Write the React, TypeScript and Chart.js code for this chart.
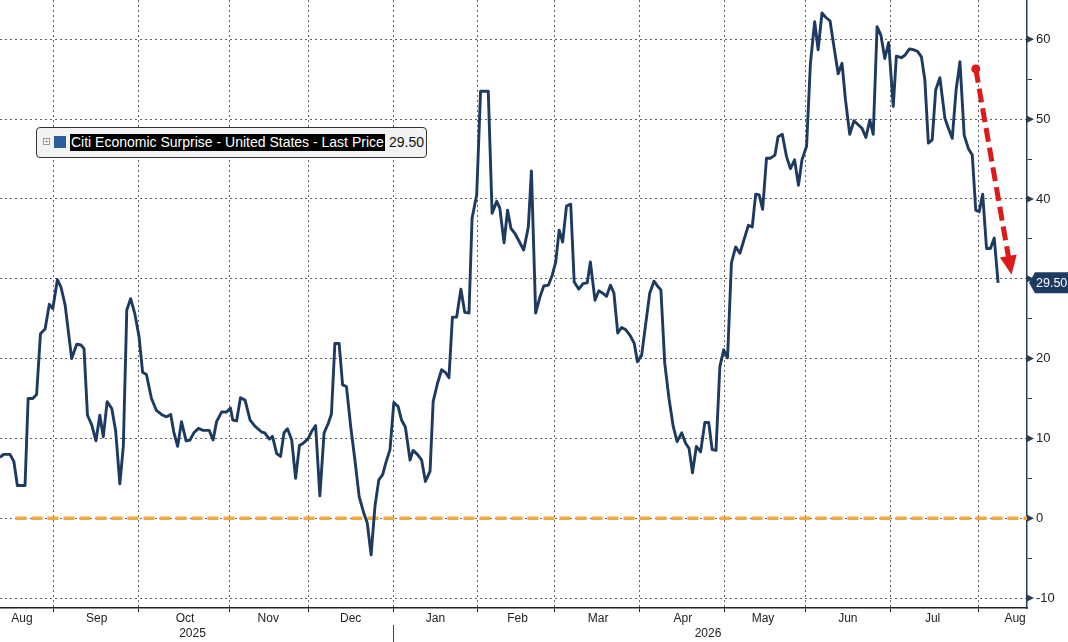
import { useEffect, useRef } from 'react';
import { Chart, registerables } from 'chart.js';

Chart.register(...registerables);

// x = business-day index, 0 = first trading day of Sep 2025
const days = [
  -14.0, -13.1, -11.4, -10.4, -9.5, -7.5, -6.7, -5.5, -4.5, -3.5, -2.3, -1.2, -0.3, 0.9, 1.8, 2.9,
  4.6, 5.9, 7.0, 7.8, 8.7, 9.8, 10.9, 11.9, 12.8, 13.8, 15.0, 16.0, 17.1, 18.0, 18.9, 19.9,
  21.0, 22.1, 23.0, 24.0, 25.3, 26.6, 27.9, 29.2, 30.3, 31.1, 32.1, 33.1, 34.3, 35.3, 36.3, 37.5,
  38.7, 40.3, 41.3, 42.2, 43.5, 44.8, 45.8, 46.4, 47.4, 48.4, 49.6, 50.9, 52.2, 53.9, 54.7, 55.9,
  56.7, 57.8, 58.8, 59.7, 60.6, 61.7, 62.7, 63.7, 64.7, 66.0, 66.9, 67.9, 69.0, 70.1, 71.2, 72.0,
  72.9, 74.0, 74.9, 75.9, 77.0, 78.1, 79.2, 80.4, 81.3, 82.3, 83.3, 84.3, 85.3, 86.1, 87.2, 88.2,
  89.3, 90.2, 91.2, 92.4, 93.2, 94.3, 95.4, 96.4, 97.6, 98.4, 99.5, 100.6, 101.7, 102.5, 103.4, 104.5,
  105.6, 106.6, 107.7, 108.5, 109.7, 110.7, 112.7, 113.7, 114.9, 115.7, 116.8, 117.7, 118.6, 119.6, 120.7, 121.9,
  123.1, 123.9, 125.0, 126.1, 127.1, 128.3, 129.3, 130.2, 131.1, 132.0, 133.0, 134.1, 135.0, 136.2, 137.3, 138.4,
  139.2, 140.4, 141.4, 142.4, 143.4, 144.4, 145.3, 146.3, 147.3, 148.4, 149.5, 150.6, 151.4, 152.5, 153.6, 154.6,
  155.7, 156.6, 157.5, 158.5, 159.6, 160.7, 161.7, 162.9, 163.9, 164.8, 165.7, 166.7, 167.8, 168.9, 169.9, 170.8,
  171.8, 172.8, 173.8, 174.8, 175.8, 176.9, 178.0, 179.0, 180.2, 181.2, 182.1, 183.0, 183.9, 184.9, 185.9, 187.1,
  187.9, 189.0, 190.1, 191.1, 192.2, 193.2, 194.1, 195.3, 196.3, 197.4, 198.3, 199.3, 200.2, 201.4, 202.4, 203.5,
  204.5, 205.4, 206.5, 207.6, 208.7, 209.7, 210.7, 211.7, 212.6, 213.6, 214.6, 215.6, 216.6, 217.8, 218.6, 219.9,
  220.8, 222.0, 223.0, 224.1, 225.1, 226.0, 226.9, 227.9, 228.8, 229.9, 231.2, 232.1, 233.1, 234.1, 235.1, 236.2,
  237.3, 238.3, 239.2, 240.1, 241.0, 242.0, 243.0, 244.0, 245.0,
];

const surprise = [
  7.6, 8.0, 8.0, 7.1, 4.1, 4.1, 15.0, 15.0, 15.5, 23.1, 23.7, 26.8, 26.25, 29.9, 29.0, 26.7,
  20.0, 21.8, 21.7, 21.25, 12.9, 11.7, 9.7, 12.9, 10.2, 14.6, 13.75, 11.0, 4.3, 9.0, 26.1, 27.5,
  25.6, 22.7, 18.3, 18.0, 15.0, 13.5, 13.0, 12.7, 13.0, 10.8, 9.0, 12.1, 9.7, 9.8, 10.7, 11.25,
  11.0, 11.0, 9.8, 12.1, 13.3, 13.3, 13.8, 12.3, 12.2, 15.1, 14.8, 12.3, 11.5, 10.8, 10.7, 9.9,
  10.25, 8.1, 7.75, 10.7, 11.2, 9.8, 5.0, 9.1, 9.4, 10.0, 10.9, 11.6, 2.8, 10.7, 11.9, 13.05,
  21.9, 21.9, 16.7, 16.5, 11.5, 7.3, 2.7, 0.65, -0.6, -4.6, 1.5, 4.8, 5.45, 6.9, 8.6, 14.5,
  14.0, 12.3, 11.4, 7.3, 8.5, 8.0, 7.3, 4.6, 5.9, 14.6, 16.85, 18.6, 18.2, 17.6, 25.2, 25.2,
  28.7, 25.8, 25.7, 37.6, 40.5, 53.5, 53.5, 38.2, 39.7, 38.85, 34.5, 38.6, 36.3, 35.7, 34.7, 33.6,
  36.5, 43.5, 25.7, 27.7, 29.1, 29.2, 30.45, 32.1, 36.1, 34.6, 39.1, 39.35, 29.6, 28.7, 29.4, 29.5,
  32.1, 27.3, 28.5, 28.2, 27.8, 29.2, 28.25, 23.2, 23.9, 23.6, 22.9, 21.9, 19.6, 20.4, 24.5, 28.2,
  29.7, 29.1, 28.6, 19.4, 15.0, 11.5, 9.6, 10.7, 9.4, 8.75, 5.7, 9.0, 8.3, 12.0, 12.0, 8.6,
  8.5, 19.0, 21.1, 20.1, 32.0, 34.0, 33.2, 34.8, 36.7, 36.5, 40.6, 40.5, 38.7, 45.1, 45.1, 45.5,
  47.8, 48.1, 45.3, 43.8, 44.9, 41.7, 44.9, 46.6, 57.0, 62.2, 58.7, 63.3, 62.8, 62.3, 59.1, 55.7,
  57.0, 52.4, 48.1, 49.8, 49.3, 48.85, 47.7, 49.9, 48.1, 61.6, 60.5, 57.6, 59.6, 51.6, 57.9, 57.7,
  58.0, 58.8, 58.7, 58.5, 57.8, 54.9, 47.0, 47.4, 53.65, 55.2, 50.1, 48.85, 47.6, 53.65, 57.2, 48.0,
  46.3, 45.5, 38.6, 38.4, 40.6, 33.8, 33.8, 35.1, 29.5,
];

const lastPrice = 29.5;

const monthStarts = [0, 22, 45.5, 66, 88, 110, 130, 152, 174, 195, 217, 240];
const monthNames = ['Aug', 'Sep', 'Oct', 'Nov', 'Dec', 'Jan', 'Feb', 'Mar', 'Apr', 'May', 'Jun', 'Jul', 'Aug'];
const monthMids = [-8.3, 11.1, 34, 55.6, 77, 99, 120.3, 141.2, 163.2, 184, 206, 228, 249.4];
const yearNames = ['2025', '2026'];
const yearBreak = 88;

const yTicks = [-10, -5, 0, 5, 10, 15, 20, 25, 30, 35, 40, 45, 50, 55, 60];

const arrowFrom = { x: 239.2, y: 56.3 };
const arrowTo = { x: 248.5, y: 30.5 };

const X_MIN = -14;
const X_MAX = 252.5;

const FONT = '"Liberation Sans", Arial, sans-serif';
const NAVY = '#1d3b61';

const overlayPlugin = {
  id: 'bbgOverlay',
  afterDatasetsDraw(chart: any) {
    const { ctx, scales } = chart;
    const x = scales.x;
    const y = scales.y;

    // red dashed arrow
    const x1 = x.getPixelForValue(arrowFrom.x);
    const y1 = y.getPixelForValue(arrowFrom.y);
    const x2 = x.getPixelForValue(arrowTo.x);
    const y2 = y.getPixelForValue(arrowTo.y);
    const ang = Math.atan2(y2 - y1, x2 - x1);
    const headLen = 19;
    const headHalf = 8.5;
    const bx = x2 - Math.cos(ang) * headLen;
    const by = y2 - Math.sin(ang) * headLen;
    ctx.save();
    ctx.strokeStyle = '#dd1a1a';
    ctx.fillStyle = '#dd1a1a';
    ctx.lineWidth = 5;
    ctx.setLineDash([14, 6]);
    ctx.beginPath();
    ctx.moveTo(x1, y1);
    ctx.lineTo(bx + Math.cos(ang) * 2, by + Math.sin(ang) * 2);
    ctx.stroke();
    ctx.setLineDash([]);
    ctx.beginPath();
    ctx.arc(x1, y1, 4.5, 0, Math.PI * 2);
    ctx.fill();
    ctx.beginPath();
    ctx.moveTo(x2, y2);
    ctx.lineTo(bx - Math.sin(ang) * headHalf, by + Math.cos(ang) * headHalf);
    ctx.lineTo(bx + Math.sin(ang) * headHalf, by - Math.cos(ang) * headHalf);
    ctx.closePath();
    ctx.fill();
    ctx.restore();
  },
  afterDraw(chart: any) {
    const { ctx, scales, chartArea } = chart;
    const x = scales.x;
    const y = scales.y;
    const axisX = chartArea.right;

    ctx.save();
    // major tick triangles on the right axis
    ctx.fillStyle = '#2b3d55';
    yTicks.filter((v) => v % 10 === 0).forEach((v) => {
      const py = y.getPixelForValue(v);
      ctx.beginPath();
      ctx.moveTo(axisX, py - 3.5);
      ctx.lineTo(axisX + 7, py);
      ctx.lineTo(axisX, py + 3.5);
      ctx.closePath();
      ctx.fill();
    });

    // month and year labels
    ctx.fillStyle = '#222';
    ctx.font = `12px ${FONT}`;
    ctx.textAlign = 'center';
    ctx.textBaseline = 'middle';
    monthNames.forEach((m, i) => {
      ctx.fillText(m, x.getPixelForValue(monthMids[i]), chartArea.bottom + 11);
    });
    const xb = x.getPixelForValue(yearBreak);
    ctx.fillText(yearNames[0], (x.getPixelForValue(X_MIN) + xb) / 2 - 4, chartArea.bottom + 26);
    ctx.fillText(yearNames[1], (xb + x.getPixelForValue(X_MAX)) / 2 - 2, chartArea.bottom + 26);
    ctx.strokeStyle = '#444';
    ctx.lineWidth = 1;
    ctx.beginPath();
    ctx.moveTo(Math.round(xb) + 0.5, chartArea.bottom + 17);
    ctx.lineTo(Math.round(xb) + 0.5, chart.height);
    ctx.stroke();

    // last price tag
    const py = y.getPixelForValue(lastPrice);
    ctx.fillStyle = NAVY;
    ctx.beginPath();
    ctx.moveTo(axisX + 2, py);
    ctx.lineTo(axisX + 8, py - 10.5);
    ctx.lineTo(chart.width, py - 10.5);
    ctx.lineTo(chart.width, py + 10.5);
    ctx.lineTo(axisX + 8, py + 10.5);
    ctx.closePath();
    ctx.fill();
    ctx.fillStyle = '#fff';
    ctx.textAlign = 'left';
    ctx.font = `12.5px ${FONT}`;
    ctx.fillText(lastPrice.toFixed(2), axisX + 9, py + 0.5);
    ctx.restore();
  },
};

const App = () => {
  const canvasRef = useRef<HTMLCanvasElement>(null);

  useEffect(() => {
    document.body.style.margin = '0';
    if (!canvasRef.current) return;

    const chart = new Chart(canvasRef.current, {
      type: 'line',
      data: {
        datasets: [
          {
            label: 'Citi Economic Surprise - United States - Last Price',
            data: days.map((d, i) => ({ x: d, y: surprise[i] })),
            borderColor: NAVY,
            borderWidth: 2.9,
            pointRadius: 0,
            tension: 0,
            borderJoinStyle: 'round',
          },
          {
            label: 'zero',
            data: [
              { x: -10, y: 0 },
              { x: X_MAX, y: 0 },
            ],
            borderColor: '#f2a93a',
            borderWidth: 3.5,
            borderDash: [11, 5],
            pointRadius: 0,
          },
        ],
      },
      options: {
        animation: false,
        responsive: true,
        maintainAspectRatio: false,
        layout: { padding: 0 },
        plugins: {
          legend: { display: false },
          tooltip: { enabled: false },
        },
        scales: {
          x: {
            type: 'linear',
            min: X_MIN,
            max: X_MAX,
            afterBuildTicks: (scale: any) => {
              scale.ticks = monthStarts.map((v) => ({ value: v }));
            },
            afterFit: (scale: any) => {
              scale.height = 34;
              scale.paddingLeft = 0;
              scale.paddingRight = 0;
            },
            ticks: { display: false },
            grid: {
              color: '#5f5f5f',
              lineWidth: 1,
              drawTicks: true,
              tickLength: 4,
              tickColor: '#222',
              tickBorderDash: [],
            },
            border: { display: true, color: '#222', width: 1.5, dash: [2, 3] },
          },
          y: {
            position: 'right',
            min: -11.25,
            max: 64.93,
            afterBuildTicks: (scale: any) => {
              scale.ticks = yTicks.map((v) => ({ value: v }));
            },
            afterFit: (scale: any) => {
              scale.width = 41;
              scale.paddingTop = 0;
              scale.paddingBottom = 0;
            },
            ticks: {
              autoSkip: false,
              padding: 4,
              color: '#222',
              font: { family: FONT, size: 13 },
              callback: (v: any) => (Number(v) % 10 === 0 ? String(v) : ''),
            },
            grid: {
              color: (c: any) => (c.tick && c.tick.value % 10 === 0 ? '#5f5f5f' : 'rgba(0,0,0,0)'),
              lineWidth: 1,
              tickLength: 5,
              tickColor: '#2b3d55',
              tickBorderDash: [],
            },
            border: { display: true, color: '#2b3d55', width: 1.5, dash: [2, 3] },
          },
        },
      },
      plugins: [overlayPlugin],
    });

    return () => {
      chart.destroy();
    };
  }, []);

  return (
    <div style={{ position: 'relative', width: 1068, height: 642, background: '#fff' }}>
      <canvas ref={canvasRef} />
      <div
        style={{
          position: 'absolute',
          left: 36,
          top: 127,
          width: 391,
          height: 31,
          boxSizing: 'border-box',
          border: '1px solid #333',
          borderRadius: 4,
          background: '#f2f2f2',
          font: `14px ${FONT}`,
        }}
      >
        <span
          style={{
            position: 'absolute',
            left: 6,
            top: 10,
            width: 5,
            height: 5,
            border: '1px solid #999',
            background: '#fff',
            fontSize: 7,
            lineHeight: '5px',
            textAlign: 'center',
            color: '#666',
          }}
        >
          +
        </span>
        <span
          style={{ position: 'absolute', left: 17, top: 8, width: 12, height: 12, background: '#2a5b9c' }}
        />
        <span
          style={{
            position: 'absolute',
            left: 33,
            top: 6,
            height: 17,
            lineHeight: '17px',
            padding: '0 1px',
            background: '#000',
            color: '#fff',
            whiteSpace: 'nowrap',
          }}
        >
          Citi Economic Surprise - United States - Last Price
        </span>
        <span style={{ position: 'absolute', left: 352, top: 6, lineHeight: '17px', color: '#111' }}>
          {lastPrice.toFixed(2)}
        </span>
      </div>
    </div>
  );
};

export default App;
